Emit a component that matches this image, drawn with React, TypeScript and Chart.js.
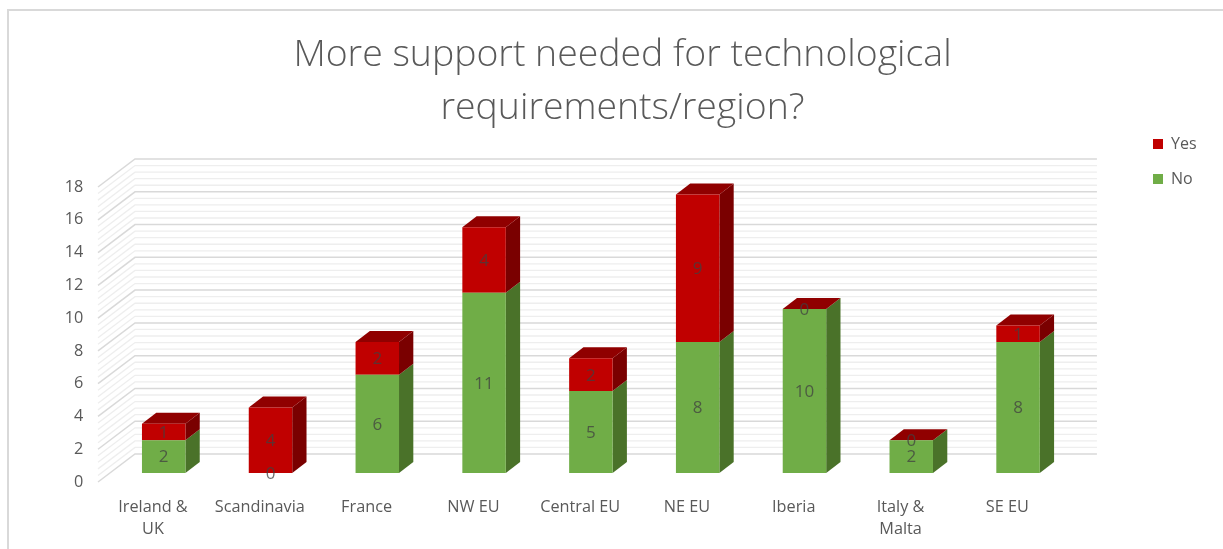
import React, { useEffect, useRef } from "react";
import { Chart, registerables } from "chart.js";

Chart.register(...registerables);

// Survey answers per region
const regions = [
  ["Ireland &", "UK"],
  "Scandinavia",
  "France",
  "NW EU",
  "Central EU",
  "NE EU",
  "Iberia",
  ["Italy &", "Malta"],
  "SE EU",
];
const noAnswers = [2, 0, 6, 11, 5, 8, 10, 2, 8];
const yesAnswers = [1, 4, 2, 4, 2, 9, 0, 0, 1];

// Values of the faint lines on the chart walls
const wallStep = 0.4;
const wallSteps = 45;

const GREEN = "#70AD47";
const GREEN_SIDE = "#4A7229";
const RED = "#C00000";
const RED_SIDE = "#7A0000";
const RED_TOP = "#900000";
const TEXT = "#595959";
const BODY_FONT = "Open Sans";

// Extrusion of a bar, and where the back wall and front edge sit around the plot
const BAR_DX = 14.3;
const BAR_DY = 11;
const WALL_BACK_DX = 24.7;
const WALL_BACK_DY = 19;
const WALL_FRONT_DX = 12.3;
const WALL_FRONT_DY = 9;
const WALL_RIGHT = 25.5;

const framePlugin = {
  id: "frame",
  beforeDraw(chart: any) {
    const { ctx, width, height } = chart;
    ctx.save();
    ctx.fillStyle = "#ffffff";
    ctx.fillRect(0, 0, width, height);
    ctx.strokeStyle = "#d9d9d9";
    ctx.lineWidth = 2;
    ctx.beginPath();
    ctx.moveTo(8, height);
    ctx.lineTo(8, 10);
    ctx.lineTo(width, 10);
    ctx.stroke();
    ctx.restore();
  },
};

const wallsPlugin = {
  id: "walls",
  beforeDatasetsDraw(chart: any) {
    const { ctx, chartArea, scales } = chart;
    const y = scales.y;
    const backLeft = chartArea.left + WALL_BACK_DX;
    const backRight = chartArea.right + WALL_RIGHT;
    const frontLeft = chartArea.left - WALL_FRONT_DX;
    ctx.save();
    const drawLine = (value: number, color: string, width: number) => {
      const py = y.getPixelForValue(value);
      ctx.strokeStyle = color;
      ctx.lineWidth = width;
      ctx.beginPath();
      ctx.moveTo(frontLeft, py + WALL_FRONT_DY);
      ctx.lineTo(backLeft, py - WALL_BACK_DY);
      ctx.lineTo(backRight, py - WALL_BACK_DY);
      ctx.stroke();
    };
    for (let i = 0; i <= wallSteps; i++) {
      if (i % 5 !== 0) drawLine(i * wallStep, "#eeeeee", 1.3);
    }
    y.ticks.forEach((t: any) => drawLine(t.value, "#d9d9d9", 1.5));
    ctx.restore();
  },
};

const extrudePlugin = {
  id: "extrude",
  beforeDatasetsDraw(chart: any) {
    const { ctx } = chart;
    const lastIndex = chart.data.datasets.length - 1;
    ctx.save();
    chart.data.datasets.forEach((ds: any, di: number) => {
      const side = di === 0 ? GREEN_SIDE : RED_SIDE;
      chart.getDatasetMeta(di).data.forEach((bar: any) => {
        const { x, y, base, width } = bar.getProps(["x", "y", "base", "width"], true);
        const l = x - width / 2;
        const r = x + width / 2;
        ctx.fillStyle = side;
        ctx.beginPath();
        ctx.moveTo(r, y);
        ctx.lineTo(r + BAR_DX, y - BAR_DY);
        ctx.lineTo(r + BAR_DX, base - BAR_DY);
        ctx.lineTo(r, base);
        ctx.closePath();
        ctx.fill();
        if (di === lastIndex) {
          ctx.fillStyle = RED_TOP;
          ctx.beginPath();
          ctx.moveTo(l, y);
          ctx.lineTo(l + BAR_DX, y - BAR_DY);
          ctx.lineTo(r + BAR_DX, y - BAR_DY);
          ctx.lineTo(r, y);
          ctx.closePath();
          ctx.fill();
        }
      });
    });
    ctx.restore();
  },
};

const valueLabelsPlugin = {
  id: "valueLabels",
  afterDatasetsDraw(chart: any) {
    const { ctx } = chart;
    ctx.save();
    ctx.font = `17px "${BODY_FONT}"`;
    ctx.fillStyle = "rgba(64, 64, 64, 0.75)";
    ctx.textAlign = "center";
    ctx.textBaseline = "middle";
    chart.data.datasets.forEach((ds: any, di: number) => {
      chart.getDatasetMeta(di).data.forEach((bar: any, i: number) => {
        const { x, y, base } = bar.getProps(["x", "y", "base"], true);
        ctx.fillText(String(ds.data[i]), x, (y + base) / 2 + 1);
      });
    });
    ctx.restore();
  },
};

// Pins the legend in the top right corner and centres the title over the frame
const placementPlugin = {
  id: "placement",
  afterLayout(chart: any) {
    const legend = chart.legend;
    const h = legend.height;
    const w = legend.width;
    legend.left = 1134;
    legend.right = 1134 + w;
    legend.top = 117;
    legend.bottom = 117 + h;
    chart.titleBlock.left = 22;
    chart.titleBlock.right = 1223;
  },
};

export default function App() {
  const ref = useRef<HTMLCanvasElement>(null);
  useEffect(() => {
    const chart = new Chart(ref.current!, {
      type: "bar",
      data: {
        labels: regions,
        datasets: [
          { label: "No", data: noAnswers, backgroundColor: GREEN, barPercentage: 0.407, categoryPercentage: 1 },
          { label: "Yes", data: yesAnswers, backgroundColor: RED, barPercentage: 0.407, categoryPercentage: 1 },
        ],
      },
      plugins: [framePlugin, wallsPlugin, extrudePlugin, valueLabelsPlugin, placementPlugin],
      options: {
        animation: false,
        responsive: false,
        layout: { padding: { left: 22, right: 79, top: 14, bottom: 0 } },
        scales: {
          x: {
            stacked: true,
            border: { display: false },
            grid: { display: false, drawTicks: false },
            ticks: {
              color: TEXT,
              font: { family: BODY_FONT, size: 16.25, lineHeight: 1.35 },
              labelOffset: -10.7,
              padding: 23,
              maxRotation: 0,
              autoSkip: false,
            },
            afterFit(scale: any) {
              scale.height = 76;
            },
          },
          y: {
            stacked: true,
            min: 0,
            max: 18,
            border: { display: false },
            grid: { display: false, drawTicks: false },
            ticks: {
              color: TEXT,
              font: { family: BODY_FONT, size: 16.25 },
              stepSize: 2,
              labelOffset: 9,
              padding: 27,
            },
            afterFit(scale: any) {
              scale.width = 88.3;
            },
          },
        },
        plugins: {
          title: {
            display: true,
            text: ["More support needed for technological", "requirements/region?"],
            color: TEXT,
            font: { family: BODY_FONT, size: 37.4, weight: "300", lineHeight: 1.42 },
            padding: { top: 15, bottom: 42.8 },
          },
          legend: {
            position: "right",
            align: "start",
            reverse: true,
            labels: {
              color: TEXT,
              font: { family: BODY_FONT, size: 16 },
              boxWidth: 10,
              boxHeight: 10,
              padding: 19,
            },
          },
          tooltip: { enabled: false },
        },
      },
    });
    return () => chart.destroy();
  }, []);
  return (
    <div style={{ position: "fixed", left: 0, top: 0 }}>
      <canvas ref={ref} width={1223} height={549} style={{ display: "block" }} />
    </div>
  );
}
